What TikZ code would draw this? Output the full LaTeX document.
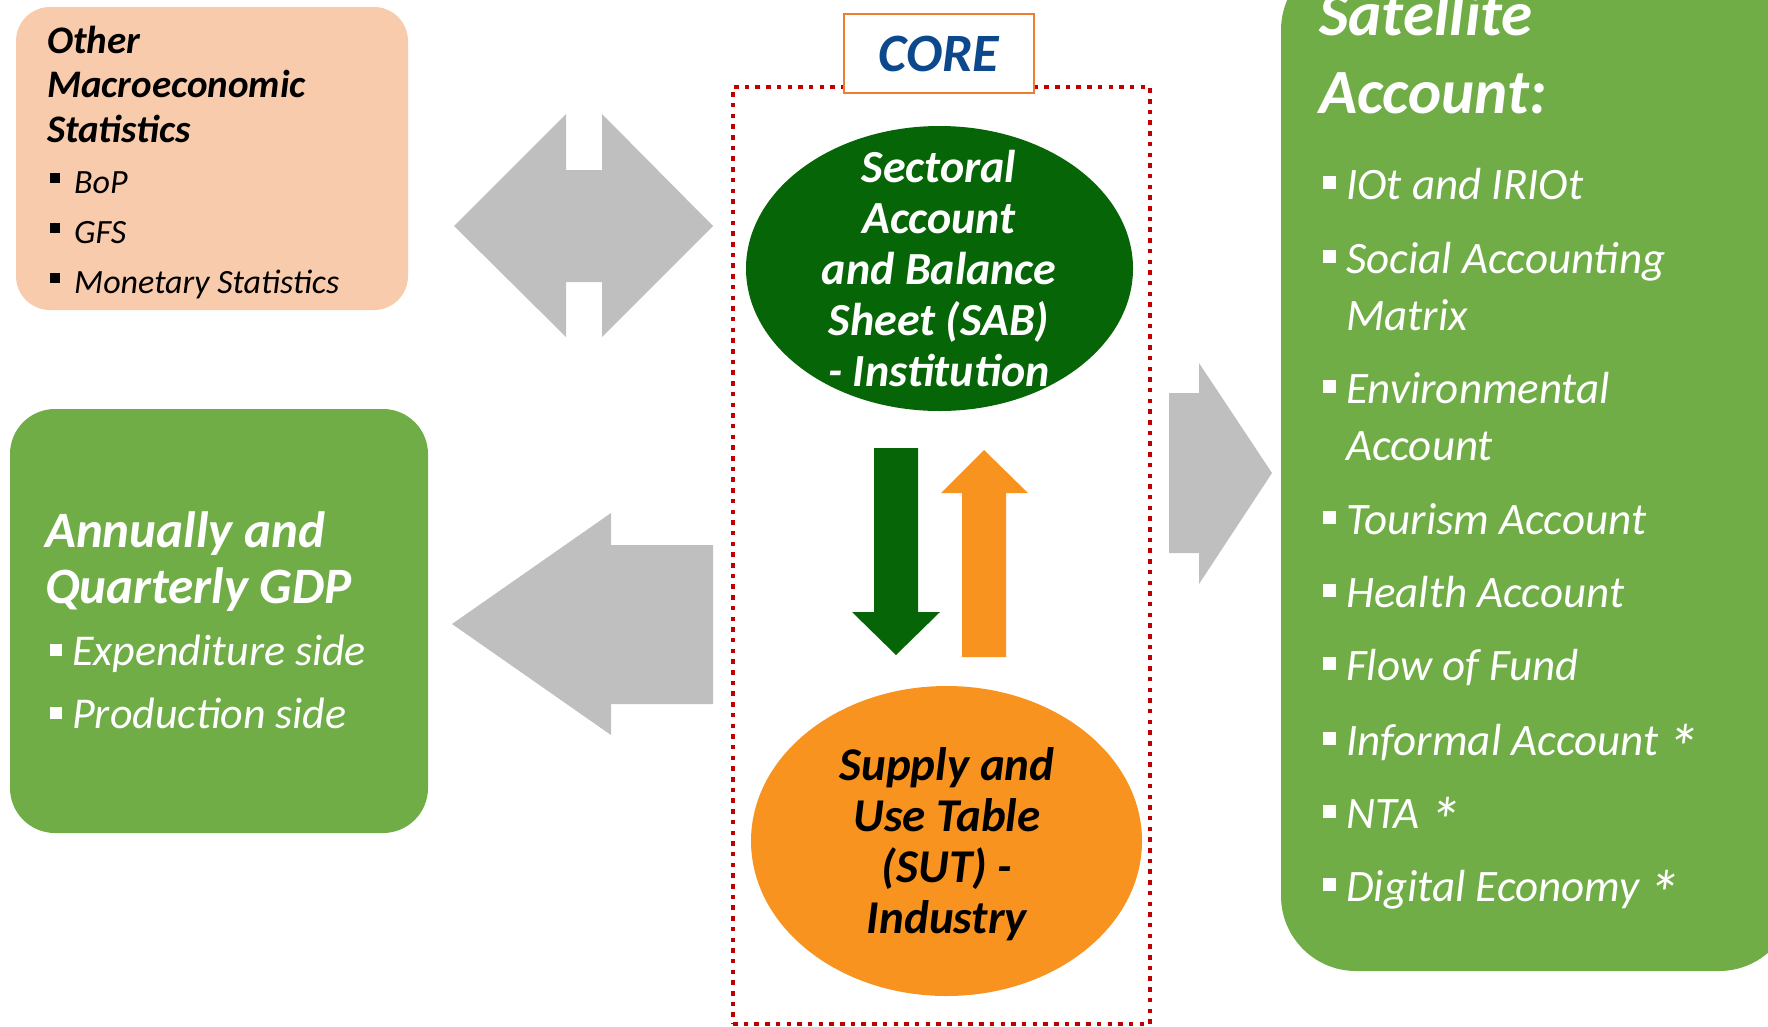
\documentclass[tikz,border=0pt]{standalone}
\usepackage{fontspec}
\setmainfont{Carlito}
\usetikzlibrary{shapes.geometric}
\definecolor{peach}{RGB}{248,203,173}
\definecolor{lgreen}{RGB}{112,173,71}
\definecolor{dgreen}{RGB}{6,101,6}
\definecolor{orng}{RGB}{247,147,30}
\definecolor{arrgray}{RGB}{191,191,191}
\definecolor{dotred}{RGB}{192,0,0}
\definecolor{coreorange}{RGB}{237,125,49}
\definecolor{coreblue}{RGB}{12,72,140}
\newcommand\fs[2]{\fontsize{#1}{#2}\selectfont}
\newcommand\bulA{\makebox[24pt][l]{\rule[10pt]{10pt}{10pt}}}
\newcommand\bulB{\makebox[22pt][l]{\rule[9pt]{12pt}{12pt}}}
\newcommand\bulC{\makebox[23pt][l]{\rule[10pt]{13pt}{13pt}}}
\newcommand\astk{\hspace{-2pt}\raisebox{-15pt}{\scalebox{1.45}{*}}}
\begin{document}
\begin{tikzpicture}[x=1pt,y=-1pt,
  panel/.style={rounded corners=#1, inner sep=0pt, draw=none},
  txt/.style={anchor=base west, inner sep=0pt, align=left},
  ctxt/.style={anchor=base, inner sep=0pt, align=center},
  sitem/.style={txt, text=white, font=\fs{45}{57}\itshape},
  blockarrow/.style={fill=arrgray, draw=none},
]
\useasboundingbox (0,0) rectangle (1768,1026);
\clip (0,0) rectangle (1768,1026);

% panels
\node[panel=34pt, fill=peach, minimum width=392pt, minimum height=303pt] (oms) at (212,158.5) {};
\node[panel=45pt, fill=lgreen, minimum width=418pt, minimum height=424pt] (gdp) at (219,621) {};
\node[panel=75pt, fill=lgreen, minimum width=513pt, minimum height=1016pt] (sat) at (1537.5,463) {};

% texts, other macro statistics (base anchor = last line)
\node[txt, font=\fs{39}{44.5}\bfseries\itshape] (omsT) at (47,142) {Other\\Macroeconomic\\Statistics};
\node[txt, font=\fs{34}{50}\itshape] (omsL) at (50,293) {\bulA BoP\\\bulA GFS\\\bulA Monetary Statistics};

% GDP
\node[txt, text=white, font=\fs{51}{56}\bfseries\itshape] (gdpT) at (45,603) {Annually and\\Quarterly GDP};
\node[txt, text=white, font=\fs{44}{63}\itshape] (gdpL) at (50,728) {\bulB Expenditure side\\\bulB Production side};

% Satellite
\node[txt, text=white, font=\fs{63}{78}\bfseries\itshape] (satT) at (1319,113) {Satellite\\Account:};
\node[sitem] (s1) at (1323,199) {\bulC IOt and IRIOt};
\node[sitem] (s2) at (1323,330) {\bulC Social Accounting\\\hspace*{23pt}Matrix};
\node[sitem] (s3) at (1323,460) {\bulC Environmental\\\hspace*{23pt}Account};
\node[sitem] (s4) at (1323,534) {\bulC Tourism Account};
\node[sitem] (s5) at (1323,607) {\bulC Health Account};
\node[sitem] (s6) at (1323,680) {\bulC Flow of Fund};
\node[sitem] (s7) at (1323,755) {\bulC Informal Account \astk};
\node[sitem] (s8) at (1323,828) {\bulC NTA \astk};
\node[sitem] (s9) at (1323,901) {\bulC Digital Economy \astk};

% core frame
\node[draw=dotred, line width=4.5pt, dash pattern=on 4.5pt off 6.2pt, minimum width=417pt, minimum height=937pt, inner sep=0pt] (frame) at (941.5,555.5) {};
\node[draw=coreorange, line width=2.5pt, fill=white, minimum width=190pt, minimum height=79pt, inner sep=0pt, text=coreblue, font=\fs{54}{60}\bfseries\itshape] (core) at (939,53.5) {CORE};

% ellipses
\node[ellipse, fill=dgreen, minimum width=387pt, minimum height=285pt, inner sep=0pt] (sab) at (939.5,268.5) {};
\node[ctxt, text=white, font=\fs{46}{51}\bfseries\itshape] (sabT) at (939,386) {Sectoral\\Account\\and Balance\\Sheet (SAB)\\- Institution};
\node[ellipse, fill=orng, minimum width=391pt, minimum height=310pt, inner sep=0pt] (sut) at (946.5,841) {};
\node[ctxt, text=black, font=\fs{47}{51}\bfseries\itshape] (sutT) at (947,933) {Supply and\\Use Table\\(SUT) -\\Industry};

% block arrows
\fill[blockarrow] (454,226) -- (566,114) -- (566,170) -- (602,170) -- (602,114) -- (713,226) -- (602,337) -- (602,282) -- (566,282) -- (566,337) -- cycle;
\fill[blockarrow] (452,624) -- (611,513) -- (611,545) -- (713,545) -- (713,704) -- (611,704) -- (611,735) -- cycle;
\fill[blockarrow] (1169,393) -- (1199,393) -- (1199,363) -- (1272,473) -- (1199,584) -- (1199,553) -- (1169,553) -- cycle;
\fill[dgreen] (874,448) -- (918,448) -- (918,612) -- (940,612) -- (896,655) -- (852,612) -- (874,612) -- cycle;
\fill[orng] (962,657) -- (962,493) -- (941,493) -- (984,450) -- (1028,493) -- (1006,493) -- (1006,657) -- cycle;
\end{tikzpicture}
\end{document}
